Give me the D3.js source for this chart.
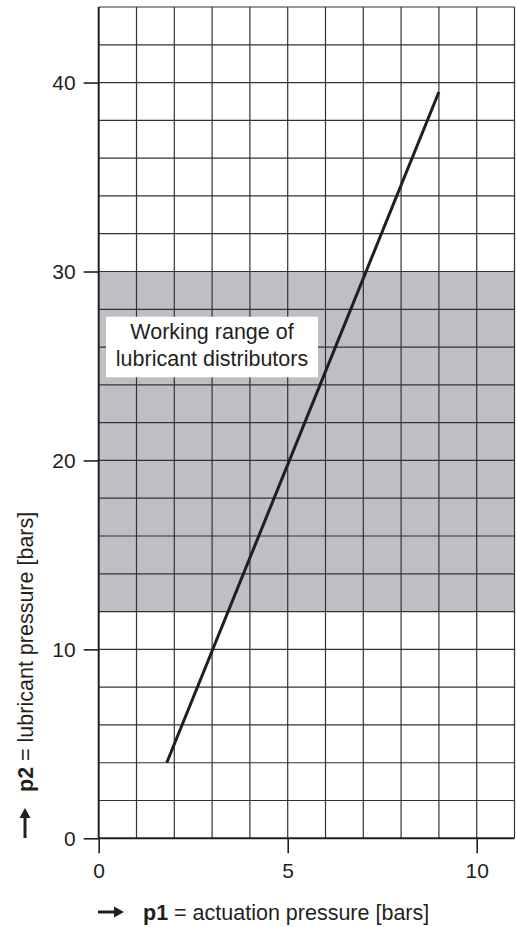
<!DOCTYPE html>
<html>
<head>
<meta charset="utf-8">
<script src="https://cdn.jsdelivr.net/npm/d3@7"></script>
<style>
  body { margin: 0; background: #fff; }
  text { font-family: "Liberation Sans", Arial, Helvetica, sans-serif; fill: #231f20; }
</style>
</head>
<body>
<div class="container"></div>
<script>
// data
const lineP1 = [1.8, 9];          // actuation pressure [bars]
const lineP2 = [4, 39.5];         // lubricant pressure [bars]
const rangeP2 = [12, 30];         // working range of lubricant distributors
const xTicks = [0, 5, 10];
const yTicks = [0, 10, 20, 30, 40];
const xGrid = d3.range(0, 12, 1);
const yGrid = d3.range(0, 46, 2);

// chart size
const width = 517;
const height = 927;
const margin = { top: 7, right: 2.5, bottom: 88.7, left: 98.7 };

const xScale = d3.scaleLinear().domain([0, 11]).range([margin.left, width - margin.right]);
const yScale = d3.scaleLinear().domain([0, 44]).range([height - margin.bottom, margin.top]);

const svg = d3.select("div.container")
  .append("svg")
  .attr("width", width)
  .attr("height", height);

// shaded working range
svg.append("rect")
  .attr("x", xScale(0))
  .attr("y", yScale(rangeP2[1]))
  .attr("width", xScale(11) - xScale(0))
  .attr("height", yScale(rangeP2[0]) - yScale(rangeP2[1]))
  .attr("fill", "#bebfc3");

// grid
svg.append("g").selectAll("line").data(xGrid.slice(1)).enter().append("line")
  .attr("x1", d => xScale(d)).attr("x2", d => xScale(d))
  .attr("y1", yScale(0)).attr("y2", yScale(44))
  .attr("stroke", "#333").attr("stroke-width", 1.2);
svg.append("g").selectAll("line").data(yGrid.slice(1)).enter().append("line")
  .attr("x1", xScale(0)).attr("x2", xScale(11))
  .attr("y1", d => yScale(d)).attr("y2", d => yScale(d))
  .attr("stroke", "#333").attr("stroke-width", 1.2);

// axes
const xAxis = d3.axisBottom(xScale).tickValues(xTicks).tickSize(15).tickPadding(9.5);
const yAxis = d3.axisLeft(yScale).tickValues(yTicks).tickSize(15).tickPadding(8);

const gx = svg.append("g").attr("transform", `translate(0,${yScale(0)})`).call(xAxis);
const gy = svg.append("g").attr("transform", `translate(${xScale(0)},0)`).call(yAxis);
[gx, gy].forEach(g => {
  g.select(".domain").remove();
  g.selectAll(".tick line").attr("stroke", "#231f20").attr("stroke-width", 1.6);
  g.selectAll(".tick text")
    .style("font-family", "Liberation Sans, Arial, sans-serif")
    .style("font-size", "21px")
    .attr("fill", "#231f20");
});

// axis lines
svg.append("line")
  .attr("x1", xScale(0)).attr("x2", xScale(11))
  .attr("y1", yScale(0)).attr("y2", yScale(0))
  .attr("stroke", "#231f20").attr("stroke-width", 2);
svg.append("line")
  .attr("x1", xScale(0)).attr("x2", xScale(0))
  .attr("y1", yScale(0)).attr("y2", yScale(44))
  .attr("stroke", "#231f20").attr("stroke-width", 2);

// characteristic line
svg.append("path")
  .datum(d3.zip(lineP1, lineP2))
  .attr("d", d3.line().x(d => xScale(d[0])).y(d => yScale(d[1])))
  .attr("fill", "none")
  .attr("stroke", "#1f1f1f")
  .attr("stroke-width", 3);

// label box
svg.append("rect")
  .attr("x", 106).attr("y", 316.7)
  .attr("width", 212).attr("height", 60.6)
  .attr("fill", "#fff");
const boxText = svg.append("text")
  .attr("x", 212)
  .attr("text-anchor", "middle")
  .style("font-size", "21.5px");
boxText.append("tspan").attr("x", 212).attr("y", 338.5).text("Working range of");
boxText.append("tspan").attr("x", 212).attr("y", 365.5).text("lubricant distributors");

// arrows
function arrow(x1, y1, x2, y2) {
  const ang = Math.atan2(y2 - y1, x2 - x1);
  const len = 10, half = 5.5;
  const bx = x2 - len * Math.cos(ang), by = y2 - len * Math.sin(ang);
  svg.append("line")
    .attr("x1", x1).attr("y1", y1).attr("x2", bx).attr("y2", by)
    .attr("stroke", "#231f20").attr("stroke-width", 3);
  svg.append("path")
    .attr("d", `M${x2},${y2}L${bx - half * Math.sin(ang)},${by + half * Math.cos(ang)}L${bx + half * Math.sin(ang)},${by - half * Math.cos(ang)}Z`)
    .attr("fill", "#231f20");
}

// x title
arrow(98, 912, 124, 912);
const xTitle = svg.append("text")
  .attr("x", 143).attr("y", 920)
  .style("font-size", "21.5px");
xTitle.append("tspan").attr("font-weight", "bold").text("p1");
xTitle.append("tspan").text(" = actuation pressure [bars]");

// y title
arrow(25, 838, 25, 808);
const yTitle = svg.append("text")
  .attr("transform", "translate(33,792) rotate(-90)")
  .style("font-size", "21.5px");
yTitle.append("tspan").attr("font-weight", "bold").text("p2");
yTitle.append("tspan").text(" = lubricant pressure [bars]");
</script>
</body>
</html>
